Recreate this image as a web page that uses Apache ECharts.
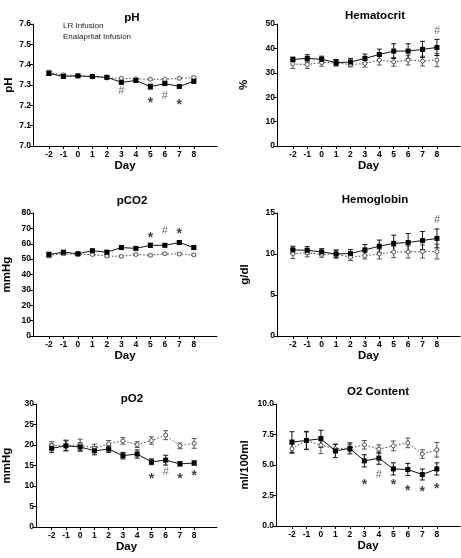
<!DOCTYPE html>
<html><head><meta charset="utf-8">
<script src="https://cdn.jsdelivr.net/npm/echarts@6/dist/echarts.min.js"></script>
<style>html,body{margin:0;padding:0;background:#fff}#c{width:461px;height:558px}</style>
</head><body><div id="c"></div>
<script>
const days = [-2,-1,0,1,2,3,4,5,6,7,8];
const seriesNames = ['LR Infusion','Enalaprilat Infusion'];

const phEnal = [7.357,7.342,7.345,7.342,7.338,7.313,7.322,7.292,7.307,7.293,7.318];
const phEnalErr = [0.010,0.008,0.006,0.005,0.006,0.007,0.006,0.012,0.008,0.006,0.007];
const phLR = [7.360,7.350,7.345,7.340,7.335,7.333,7.330,7.328,7.328,7.333,7.337];
const phLRErr = [0.012,0.006,0.005,0.004,0.005,0.004,0.004,0.004,0.004,0.004,0.005];
const phMarks = [[3,7.269,'#'],[5,7.226,'*'],[6,7.248,'#'],[7,7.215,'*']];

const hctEnal = [35.5,35.9,35.5,34.2,34.4,35.9,37.5,38.9,38.9,39.6,40.4];
const hctEnalErr = [0.9,1.5,1.3,1.3,1.5,1.8,2.2,3.0,3.0,3.3,3.3];
const hctLR = [33.6,33.4,34.2,34.1,33.4,33.8,35.2,34.5,35.2,34.8,35.2];
const hctLRErr = [1.8,1.6,1.5,1.3,1.0,1.5,2.0,1.8,2.0,2.0,2.7];
const hctMarks = [[8,47.3,'#']];

const pco2Enal = [53.0,54.5,53.5,55.5,54.5,57.5,57.0,59.0,59.0,60.8,57.5];
const pco2EnalErr = [1.5,1.0,1.0,0.8,1.2,1.2,1.0,1.3,1.0,1.2,1.0];
const pco2LR = [52.5,53.5,53.0,53.0,52.0,51.8,53.0,52.5,53.5,53.3,52.8];
const pco2LRErr = [1.5,0.8,0.8,0.6,0.6,0.6,0.6,0.6,0.6,0.6,0.6];
const pco2Marks = [[5,65.8,'*'],[6,68,'#'],[7,68,'*']];

const hbEnal = [10.5,10.45,10.25,10.0,10.05,10.5,10.95,11.3,11.4,11.65,11.9];
const hbEnalErr = [0.45,0.45,0.4,0.5,0.5,0.65,0.75,1.0,1.1,1.1,1.15];
const hbLR = [10.05,10.15,9.95,10.0,9.6,9.8,10.0,10.25,10.25,10.3,10.3];
const hbLRErr = [0.6,0.5,0.35,0.4,0.4,0.4,0.6,0.7,0.75,0.8,0.9];
const hbMarks = [[8,14.2,'#']];

const po2Enal = [19.2,19.8,19.5,18.6,19.0,17.4,17.8,15.9,16.3,15.4,15.6];
const po2EnalErr = [1.0,1.2,1.0,1.0,0.8,0.8,1.0,0.7,1.2,0.5,0.5];
const po2LR = [19.9,19.9,20.0,19.2,20.3,21.0,20.1,21.1,22.4,19.8,20.4];
const po2LRErr = [0.9,1.3,1.4,1.0,0.8,0.8,0.7,0.9,1.1,0.7,1.2];
const po2Marks = [[5,12.3,'*'],[6,13.5,'#'],[7,12.3,'*'],[8,13.1,'*']];

const o2Enal = [6.88,7.01,7.15,6.16,6.36,5.34,5.56,4.68,4.63,4.22,4.68];
const o2EnalErr = [0.85,0.75,0.7,0.55,0.45,0.5,0.5,0.5,0.5,0.45,0.5];
const o2LR = [6.33,7.0,6.63,6.33,6.4,6.66,6.3,6.57,6.82,5.9,6.25];
const o2LRErr = [0.4,0.7,0.7,0.35,0.3,0.35,0.35,0.4,0.4,0.35,0.6];
const o2Marks = [[3,3.56,'*'],[4,4.16,'#'],[5,3.6,'*'],[6,3.1,'*'],[7,3.0,'*'],[8,3.3,'*']];

const panels = [
  {title:'pH', yName:'pH', min:7.0, max:7.6, interval:0.1, dec:1, enal:phEnal, enalErr:phEnalErr, lr:phLR, lrErr:phLRErr, marks:phMarks},
  {title:'Hematocrit', yName:'%', min:0, max:50, interval:10, dec:0, enal:hctEnal, enalErr:hctEnalErr, lr:hctLR, lrErr:hctLRErr, marks:hctMarks},
  {title:'pCO2', yName:'mmHg', min:0, max:80, interval:10, dec:0, enal:pco2Enal, enalErr:pco2EnalErr, lr:pco2LR, lrErr:pco2LRErr, marks:pco2Marks},
  {title:'Hemoglobin', yName:'g/dl', min:0, max:15, interval:5, dec:0, enal:hbEnal, enalErr:hbEnalErr, lr:hbLR, lrErr:hbLRErr, marks:hbMarks},
  {title:'pO2', yName:'mmHg', min:0, max:30, interval:5, dec:0, enal:po2Enal, enalErr:po2EnalErr, lr:po2LR, lrErr:po2LRErr, marks:po2Marks},
  {title:'O2 Content', yName:'ml/100ml', min:0, max:10, interval:2.5, dec:1, enal:o2Enal, enalErr:o2EnalErr, lr:o2LR, lrErr:o2LRErr, marks:o2Marks}
];

// layout (pixels)
const layout = [
  {left:33, top:24, width:184, height:122, tx:127, ty:7, nameGap:17},
  {left:277, top:24, width:183, height:122, tx:370, ty:5, nameGap:27},
  {left:33, top:213, width:184, height:123, tx:127, ty:190, nameGap:20},
  {left:277, top:213, width:183, height:123, tx:370, ty:189, nameGap:26},
  {left:34, top:404, width:183, height:123, tx:127, ty:388, nameGap:23},
  {left:276, top:404, width:184, height:122, tx:373, ty:381, nameGap:25}
];

const FONT = 'Liberation Sans, Arial, Helvetica, sans-serif';
const opt = {
  animation:false,
  backgroundColor:'#fff',
  textStyle:{fontFamily:FONT},
  title:[], grid:[], xAxis:[], yAxis:[], series:[],
  legend:{
    data:seriesNames, orient:'vertical', left:58, top:22, icon:'none',
    itemWidth:0, itemHeight:8, itemGap:3, padding:0, selectedMode:false,
    textStyle:{fontSize:8, color:'#222', fontFamily:FONT}
  }
};

function errSeries(i, vals, errs, color){
  return {
    type:'custom', xAxisIndex:i, yAxisIndex:i, z:1, silent:true,
    data: days.map((d,k)=>[d, vals[k]-errs[k], vals[k]+errs[k]]),
    renderItem:function(params, api){
      const lo = api.coord([api.value(0), api.value(1)]);
      const hi = api.coord([api.value(0), api.value(2)]);
      const w = 2.5;
      const st = {stroke:color, lineWidth:1};
      return {type:'group', children:[
        {type:'line', shape:{x1:lo[0],y1:lo[1],x2:hi[0],y2:hi[1]}, style:st},
        {type:'line', shape:{x1:lo[0]-w,y1:lo[1],x2:lo[0]+w,y2:lo[1]}, style:st},
        {type:'line', shape:{x1:hi[0]-w,y1:hi[1],x2:hi[0]+w,y2:hi[1]}, style:st}
      ]};
    }
  };
}

panels.forEach((p,i)=>{
  const L = layout[i];
  opt.title.push({text:p.title, left:L.tx, top:L.ty, textAlign:'center',
    textStyle:{fontSize:11.5, fontWeight:'bold', color:'#000', fontFamily:FONT}});
  opt.grid.push({left:L.left, top:L.top, width:L.width, height:L.height, containLabel:false});
  opt.xAxis.push({
    type:'value', gridIndex:i, min:-3.1, max:9.6,
    name:'Day', nameLocation:'middle', nameGap:12,
    nameTextStyle:{fontSize:11.5, fontWeight:'bold', color:'#000', verticalAlign:'top'},
    axisLine:{show:true, onZero:false, lineStyle:{color:'#000', width:1}},
    axisTick:{show:true, length:3, lineStyle:{color:'#000'}, customValues:days},
    axisLabel:{fontSize:8.5, fontWeight:'bold', color:'#000', margin:4, customValues:days},
    splitLine:{show:false}
  });
  opt.yAxis.push({
    type:'value', gridIndex:i, min:p.min, max:p.max, interval:p.interval,
    name:p.yName, nameLocation:'middle', nameGap:L.nameGap, nameRotate:90,
    nameTextStyle:{fontSize:11.5, fontWeight:'bold', color:'#000'},
    axisLine:{show:true, onZero:false, lineStyle:{color:'#000', width:1}},
    axisTick:{show:true, length:3, lineStyle:{color:'#000'}},
    axisLabel:{fontSize:8.5, fontWeight:'bold', color:'#000', margin:2,
      formatter:v=>Number(v).toFixed(p.dec)},
    splitLine:{show:false}
  });
  opt.series.push(errSeries(i, p.lr, p.lrErr, '#555'));
  opt.series.push(errSeries(i, p.enal, p.enalErr, '#111'));
  opt.series.push({
    name:seriesNames[0], type:'line', xAxisIndex:i, yAxisIndex:i, z:2,
    data:days.map((d,k)=>[d,p.lr[k]]),
    symbol:'circle', symbolSize:4, showSymbol:true,
    itemStyle:{color:'#fff', borderColor:'#555', borderWidth:1},
    lineStyle:{color:'#444', width:1, type:[1.5,2]}
  });
  opt.series.push({
    name:seriesNames[1], type:'line', xAxisIndex:i, yAxisIndex:i, z:3,
    data:days.map((d,k)=>[d,p.enal[k]]),
    symbol:'rect', symbolSize:5, showSymbol:true,
    itemStyle:{color:'#000'},
    lineStyle:{color:'#111', width:1}
  });
  opt.series.push({
    type:'scatter', xAxisIndex:i, yAxisIndex:i, z:4, silent:true,
    symbolSize:0,
    data:p.marks.map(m=>({value:[m[0],m[1]], label:(m[2]==='*'
      ? {formatter:m[2], offset:[0,3], fontSize:14, fontWeight:'bold', color:'#111'}
      : {formatter:m[2], offset:[0,0], fontSize:11, fontWeight:'normal', color:'#444'})})),
    label:{show:true, position:'inside', fontFamily:FONT}
  });
});

const chart = echarts.init(document.getElementById('c'), null, {renderer:'canvas'});
chart.setOption(opt);
</script>
</body></html>
